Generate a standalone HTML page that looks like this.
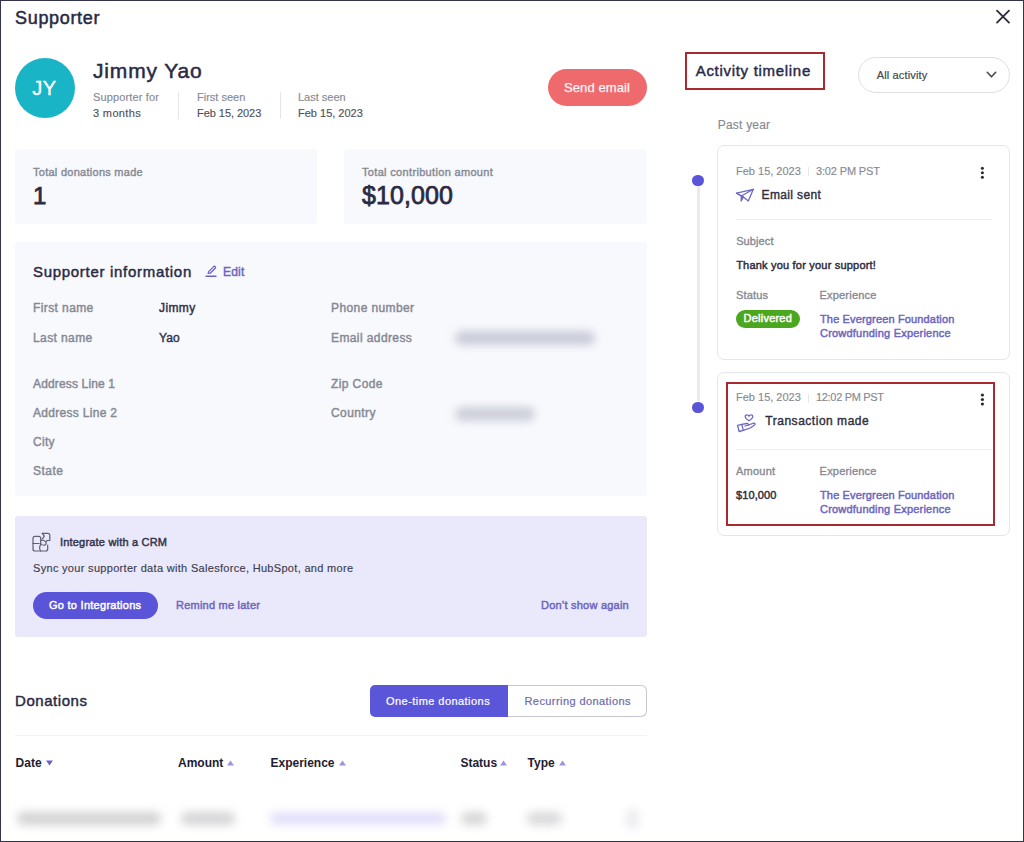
<!DOCTYPE html>
<html><head><meta charset="utf-8"><title>Supporter</title>
<style>
html,body{margin:0;padding:0;}
body{width:1024px;height:842px;overflow:hidden;background:#fff;position:relative;font-family:"Liberation Sans",sans-serif;}
.frame{position:absolute;left:0;top:0;width:1024px;height:842px;box-sizing:border-box;border:1px solid #33334a;pointer-events:none;z-index:10;}
.t{position:absolute;white-space:nowrap;line-height:1;}
.r{position:absolute;}
</style></head><body>
<div class="r" style="left:15px;top:149px;width:302px;height:75px;background:#f8f9fd;border-radius:3px;"></div>
<div class="r" style="left:344px;top:149px;width:303px;height:75px;background:#f8f9fd;border-radius:3px;"></div>
<div class="r" style="left:15px;top:242px;width:632px;height:254px;background:#f8f9fd;border-radius:3px;"></div>
<div class="r" style="left:15px;top:516px;width:632px;height:121px;background:#eae8fb;border-radius:3px;"></div>
<div class="t" style="left:15px;top:8.76px;font-size:18px;color:#2a2a44;font-weight:400;letter-spacing:0.68px;-webkit-text-stroke:0.5px #2a2a44;">Supporter</div>
<svg class="r" style="left:990px;top:4px" width="26" height="26" viewBox="0 0 26 26"><path d="M7 6.6L19 18.6M19 6.6L7 18.6" stroke="#2a2a3a" stroke-width="1.8" stroke-linecap="round"/></svg>
<div class="r" style="left:15px;top:58px;width:60px;height:60px;background:#19b5c6;border-radius:50%;"></div>
<div class="t" style="left:32.3px;top:77.67px;font-size:20px;color:#ffffff;font-weight:400;letter-spacing:0.4px;-webkit-text-stroke:0.35px #ffffff;">JY</div>
<div class="t" style="left:93px;top:59.72px;font-size:21px;color:#2a2a44;font-weight:400;letter-spacing:0.85px;-webkit-text-stroke:0.5px #2a2a44;">Jimmy Yao</div>
<div class="t" style="left:93px;top:92.49px;font-size:11px;color:#878a94;font-weight:400;letter-spacing:0.15px;-webkit-text-stroke:0.15px #878a94;">Supporter for</div>
<div class="t" style="left:93px;top:108.29px;font-size:11px;color:#50525c;font-weight:400;letter-spacing:0.35px;-webkit-text-stroke:0.15px #50525c;">3 months</div>
<div class="r" style="left:178px;top:92px;width:1px;height:27px;background:#e4e5ea;"></div>
<div class="t" style="left:197px;top:92.29px;font-size:11px;color:#878a94;font-weight:400;-webkit-text-stroke:0.15px #878a94;">First seen</div>
<div class="t" style="left:197px;top:108.29px;font-size:11px;color:#50525c;font-weight:400;letter-spacing:-0.05px;-webkit-text-stroke:0.15px #50525c;">Feb 15, 2023</div>
<div class="r" style="left:280px;top:92px;width:1px;height:27px;background:#e4e5ea;"></div>
<div class="t" style="left:298px;top:92.29px;font-size:11px;color:#878a94;font-weight:400;-webkit-text-stroke:0.15px #878a94;">Last seen</div>
<div class="t" style="left:298px;top:108.29px;font-size:11px;color:#50525c;font-weight:400;-webkit-text-stroke:0.15px #50525c;">Feb 15, 2023</div>
<div class="r" style="left:548px;top:69px;width:99px;height:37px;background:#ef6a6d;border-radius:19px;"></div>
<div class="t" style="left:564px;top:80.90px;font-size:13px;color:#fff5f6;font-weight:400;letter-spacing:0.1px;-webkit-text-stroke:0.25px #fff5f6;">Send email</div>
<div class="t" style="left:33px;top:166.69px;font-size:11px;color:#878a94;font-weight:400;letter-spacing:0.27px;-webkit-text-stroke:0.4px #878a94;">Total donations made</div>
<div class="t" style="left:33px;top:183.68px;font-size:24px;color:#2a2a44;font-weight:400;-webkit-text-stroke:0.75px #2a2a44;">1</div>
<div class="t" style="left:362px;top:166.69px;font-size:11px;color:#878a94;font-weight:400;letter-spacing:0.33px;-webkit-text-stroke:0.4px #878a94;">Total contribution amount</div>
<div class="t" style="left:362px;top:182.84px;font-size:25px;color:#2a2a44;font-weight:400;letter-spacing:0.1px;-webkit-text-stroke:0.75px #2a2a44;">$10,000</div>
<div class="t" style="left:33px;top:263.60px;font-size:15px;color:#2a2a44;font-weight:400;letter-spacing:0.7px;-webkit-text-stroke:0.45px #2a2a44;">Supporter information</div>
<svg class="r" style="left:204px;top:264px" width="14" height="14" viewBox="0 0 14 14"><path d="M4.2 9.4 L4.6 7.6 L9.6 2.6 Q10.4 1.9 11.2 2.6 Q11.9 3.4 11.2 4.2 L6.2 9.2 Z" fill="none" stroke="#6a63c8" stroke-width="1.3" stroke-linejoin="round"/><path d="M2 12.2H12" stroke="#6a63c8" stroke-width="1.4" stroke-linecap="round"/></svg>
<div class="t" style="left:223px;top:265.84px;font-size:12px;color:#6b66be;font-weight:400;letter-spacing:0.2px;-webkit-text-stroke:0.45px #6b66be;">Edit</div>
<div class="t" style="left:33px;top:301.74px;font-size:12px;color:#878a94;font-weight:400;letter-spacing:0.4px;-webkit-text-stroke:0.45px #878a94;">First name</div>
<div class="t" style="left:33px;top:331.54px;font-size:12px;color:#878a94;font-weight:400;letter-spacing:0.4px;-webkit-text-stroke:0.45px #878a94;">Last name</div>
<div class="t" style="left:33px;top:378.44px;font-size:12px;color:#878a94;font-weight:400;letter-spacing:0.15px;-webkit-text-stroke:0.45px #878a94;">Address Line 1</div>
<div class="t" style="left:33px;top:407.24px;font-size:12px;color:#878a94;font-weight:400;letter-spacing:0.3px;-webkit-text-stroke:0.45px #878a94;">Address Line 2</div>
<div class="t" style="left:33px;top:436.04px;font-size:12px;color:#878a94;font-weight:400;letter-spacing:0.3px;-webkit-text-stroke:0.45px #878a94;">City</div>
<div class="t" style="left:33px;top:465.04px;font-size:12px;color:#878a94;font-weight:400;letter-spacing:0.5px;-webkit-text-stroke:0.45px #878a94;">State</div>
<div class="t" style="left:159px;top:301.74px;font-size:12px;color:#34344a;font-weight:400;letter-spacing:0.4px;-webkit-text-stroke:0.45px #34344a;">Jimmy</div>
<div class="t" style="left:159px;top:331.54px;font-size:12px;color:#34344a;font-weight:400;letter-spacing:0.1px;-webkit-text-stroke:0.45px #34344a;">Yao</div>
<div class="t" style="left:331px;top:301.74px;font-size:12px;color:#878a94;font-weight:400;letter-spacing:0.4px;-webkit-text-stroke:0.45px #878a94;">Phone number</div>
<div class="t" style="left:331px;top:331.54px;font-size:12px;color:#878a94;font-weight:400;letter-spacing:0.4px;-webkit-text-stroke:0.45px #878a94;">Email address</div>
<div class="t" style="left:331px;top:378.44px;font-size:12px;color:#878a94;font-weight:400;letter-spacing:0.4px;-webkit-text-stroke:0.45px #878a94;">Zip Code</div>
<div class="t" style="left:331px;top:407.24px;font-size:12px;color:#878a94;font-weight:400;letter-spacing:0.4px;-webkit-text-stroke:0.45px #878a94;">Country</div>
<div class="r" style="left:455px;top:331px;width:140px;height:14px;background:#c9cbd8;border-radius:7px;filter:blur(4px);"></div>
<div class="r" style="left:455px;top:407px;width:80px;height:14px;background:#ccced9;border-radius:7px;filter:blur(4px);"></div>
<svg class="r" style="left:28px;top:528px" width="28" height="28" viewBox="0 0 28 28"><g fill="none" stroke="#5e6070" stroke-width="1.2" stroke-linejoin="round" stroke-linecap="round"><path d="M12.7 15.5V10.3Q12.7 8.3 10.7 8.3H7Q5 8.3 5 10.3V21Q5 23 7 23H17.7Q19.7 23 19.7 21V17"/><path d="M5 15.5H11.2"/><path d="M12.7 23C11.3 21 11.2 19 12.6 16.6"/><path d="M12.7 12.3Q15.5 11.6 17.4 13.6Q19.3 15.6 16.6 17.2Q14.2 17.6 12.6 15.5"/><path d="M14.3 5.3H19.8Q21.8 5.3 21.8 7.3V12.5H19.3L18.3 13.3"/><path d="M14.3 5.3L16.3 8.2L14.4 10.8"/></g></svg>
<div class="t" style="left:60px;top:536.69px;font-size:11px;color:#34344a;font-weight:400;letter-spacing:0.19px;-webkit-text-stroke:0.45px #34344a;">Integrate with a CRM</div>
<div class="t" style="left:33px;top:563.29px;font-size:11px;color:#3c3e4c;font-weight:400;letter-spacing:0.31px;-webkit-text-stroke:0.15px #3c3e4c;">Sync your supporter data with Salesforce, HubSpot, and more</div>
<div class="r" style="left:33px;top:592px;width:125px;height:27px;background:#5a54d8;border-radius:14px;"></div>
<div class="t" style="left:49px;top:599.89px;font-size:11px;color:#ffffff;font-weight:400;letter-spacing:0.27px;-webkit-text-stroke:0.45px #ffffff;">Go to Integrations</div>
<div class="t" style="left:176px;top:599.89px;font-size:11px;color:#6b66be;font-weight:400;letter-spacing:0.23px;-webkit-text-stroke:0.45px #6b66be;">Remind me later</div>
<div class="t" style="left:541px;top:599.89px;font-size:11px;color:#6b66be;font-weight:400;letter-spacing:0.22px;-webkit-text-stroke:0.45px #6b66be;">Don&#8217;t show again</div>
<div class="t" style="left:15px;top:693.30px;font-size:15px;color:#2a2a44;font-weight:400;letter-spacing:0.55px;-webkit-text-stroke:0.45px #2a2a44;">Donations</div>
<div class="r" style="left:370px;top:685px;width:138px;height:32px;background:#5b55d9;border-radius:5px 0 0 5px;"></div>
<div class="r" style="left:508px;top:685px;width:139px;height:32px;box-sizing:border-box;border:1px solid #c6c6cb;border-left:none;border-radius:0 6px 6px 0;background:#fff;"></div>
<div class="t" style="left:386px;top:695.69px;font-size:11px;color:#ffffff;font-weight:400;letter-spacing:0.45px;-webkit-text-stroke:0.2px #ffffff;">One-time donations</div>
<div class="t" style="left:524.5px;top:695.69px;font-size:11px;color:#6d69b0;font-weight:400;letter-spacing:0.42px;-webkit-text-stroke:0.2px #6d69b0;">Recurring donations</div>
<div class="r" style="left:15px;top:735px;width:632px;height:1px;background:#f2f3f5;"></div>
<div class="t" style="left:15.6px;top:757.44px;font-size:12px;color:#1f2030;font-weight:700;">Date</div>
<svg class="r" style="left:46.2px;top:760px" width="7" height="6" viewBox="0 0 7 6"><path d="M0 0.5H7L3.5 5.5Z" fill="#6a63c8"/></svg>
<div class="t" style="left:178px;top:757.44px;font-size:12px;color:#1f2030;font-weight:700;">Amount</div>
<svg class="r" style="left:227px;top:760px" width="7" height="6" viewBox="0 0 7 6"><path d="M0 5.5H7L3.5 0.5Z" fill="#9b96de"/></svg>
<div class="t" style="left:270.5px;top:757.44px;font-size:12px;color:#1f2030;font-weight:700;">Experience</div>
<svg class="r" style="left:339px;top:760px" width="7" height="6" viewBox="0 0 7 6"><path d="M0 5.5H7L3.5 0.5Z" fill="#9b96de"/></svg>
<div class="t" style="left:460.4px;top:757.44px;font-size:12px;color:#1f2030;font-weight:700;">Status</div>
<svg class="r" style="left:500px;top:760px" width="7" height="6" viewBox="0 0 7 6"><path d="M0 5.5H7L3.5 0.5Z" fill="#9b96de"/></svg>
<div class="t" style="left:527.6px;top:757.44px;font-size:12px;color:#1f2030;font-weight:700;">Type</div>
<svg class="r" style="left:559px;top:760px" width="7" height="6" viewBox="0 0 7 6"><path d="M0 5.5H7L3.5 0.5Z" fill="#9b96de"/></svg>
<div class="r" style="left:17px;top:812px;width:144px;height:13px;background:#d2d2d4;border-radius:6px;filter:blur(5px);"></div>
<div class="r" style="left:181px;top:812px;width:54px;height:13px;background:#d4d4d6;border-radius:6px;filter:blur(5px);"></div>
<div class="r" style="left:270px;top:813px;width:176px;height:11px;background:#dedbf9;border-radius:6px;filter:blur(5px);"></div>
<div class="r" style="left:461px;top:812px;width:26px;height:13px;background:#d6d6d8;border-radius:6px;filter:blur(5px);"></div>
<div class="r" style="left:527px;top:812px;width:35px;height:13px;background:#d9d9db;border-radius:6px;filter:blur(5px);"></div>
<div class="r" style="left:626px;top:808px;width:13px;height:22px;background:#ededf0;border-radius:7px;filter:blur(4px);"></div>
<div class="r" style="left:685px;top:52px;width:140px;height:38px;box-sizing:border-box;border:2px solid #a8292f;"></div>
<div class="t" style="left:695.7px;top:62.90px;font-size:15px;color:#2a2a44;font-weight:400;letter-spacing:0.7px;-webkit-text-stroke:0.45px #2a2a44;">Activity timeline</div>
<div class="r" style="left:858px;top:57px;width:152px;height:36px;box-sizing:border-box;border:1px solid #dfdfe2;border-radius:18px;background:#fff;"></div>
<div class="t" style="left:876.7px;top:69.69px;font-size:11px;color:#45464f;font-weight:400;letter-spacing:0.15px;-webkit-text-stroke:0.2px #45464f;">All activity</div>
<svg class="r" style="left:985px;top:70px" width="13" height="10" viewBox="0 0 13 10"><path d="M2.3 2.3L6.5 6.8L10.7 2.3" fill="none" stroke="#4a4a55" stroke-width="1.6" stroke-linecap="round" stroke-linejoin="round"/></svg>
<div class="t" style="left:717.8px;top:118.64px;font-size:12px;color:#878a94;font-weight:400;letter-spacing:0.2px;-webkit-text-stroke:0.15px #878a94;">Past year</div>
<div class="r" style="left:696.6px;top:186px;width:3px;height:215px;background:#eae9f7;"></div>
<div class="r" style="left:692.3px;top:174.6px;width:11.5px;height:11.5px;background:#5a54d8;border-radius:50%;"></div>
<div class="r" style="left:692.3px;top:401.5px;width:11.5px;height:11.5px;background:#5a54d8;border-radius:50%;"></div>
<div class="r" style="left:717px;top:145px;width:293px;height:215px;box-sizing:border-box;border:1px solid #e3e8e6;border-radius:7px;background:#fff;"></div>
<div class="t" style="left:736px;top:165.69px;font-size:11px;color:#878a94;font-weight:400;-webkit-text-stroke:0.15px #878a94;">Feb 15, 2023</div>
<div class="r" style="left:808px;top:167px;width:1px;height:9px;background:#e6e7ea;"></div>
<div class="t" style="left:816px;top:165.69px;font-size:11px;color:#878a94;font-weight:400;letter-spacing:-0.15px;-webkit-text-stroke:0.15px #878a94;">3:02 PM PST</div>
<svg class="r" style="left:976px;top:163px" width="12" height="20" viewBox="0 0 12 20"><g fill="#2a2a3a"><circle cx="6.4" cy="5.2" r="1.5"/><circle cx="6.4" cy="9.8" r="1.5"/><circle cx="6.4" cy="14.3" r="1.5"/></g></svg>
<svg class="r" style="left:735px;top:186.5px" width="20" height="16" viewBox="0 0 20 16"><g fill="none" stroke="#6d67c4" stroke-width="1.3" stroke-linejoin="round" stroke-linecap="round"><path d="M1.5 6.2L18.3 2.3L13.3 14.1L8.4 9.9Z"/><path d="M1.5 6.2L6.3 9L18.3 2.3"/><path d="M6.3 9L6.2 14L8.4 9.9Z" fill="#8a84dd"/></g></svg>
<div class="t" style="left:761.6px;top:188.84px;font-size:12px;color:#30303f;font-weight:400;letter-spacing:0.35px;-webkit-text-stroke:0.4px #30303f;">Email sent</div>
<div class="r" style="left:736px;top:218.5px;width:256px;height:1px;background:#eceef0;"></div>
<div class="t" style="left:736.2px;top:236.44px;font-size:11px;color:#878a94;font-weight:400;letter-spacing:0.1px;-webkit-text-stroke:0.35px #878a94;">Subject</div>
<div class="t" style="left:736.2px;top:260.09px;font-size:11px;color:#2e2e3e;font-weight:400;letter-spacing:0.2px;-webkit-text-stroke:0.45px #2e2e3e;">Thank you for your support!</div>
<div class="t" style="left:736px;top:290.19px;font-size:11px;color:#878a94;font-weight:400;letter-spacing:0.15px;-webkit-text-stroke:0.35px #878a94;">Status</div>
<div class="t" style="left:819.5px;top:290.19px;font-size:11px;color:#878a94;font-weight:400;letter-spacing:0.2px;-webkit-text-stroke:0.35px #878a94;">Experience</div>
<div class="r" style="left:736px;top:310px;width:64px;height:17.5px;background:#4ba71e;border-radius:9px;"></div>
<div class="t" style="left:743.6px;top:313.39px;font-size:11px;color:#ffffff;font-weight:400;letter-spacing:0.22px;-webkit-text-stroke:0.45px #ffffff;">Delivered</div>
<div class="t" style="left:820px;top:313.79px;font-size:11px;color:#6b66be;font-weight:400;letter-spacing:0.15px;-webkit-text-stroke:0.45px #6b66be;">The Evergreen Foundation</div>
<div class="t" style="left:820px;top:328.49px;font-size:11px;color:#6b66be;font-weight:400;letter-spacing:0.21px;-webkit-text-stroke:0.45px #6b66be;">Crowdfunding Experience</div>
<div class="r" style="left:717px;top:372px;width:293px;height:164px;box-sizing:border-box;border:1px solid #e3e8e6;border-radius:7px;background:#fff;"></div>
<div class="r" style="left:726px;top:382px;width:269px;height:144px;box-sizing:border-box;border:2px solid #a8292f;"></div>
<div class="t" style="left:736px;top:392.19px;font-size:11px;color:#878a94;font-weight:400;-webkit-text-stroke:0.15px #878a94;">Feb 15, 2023</div>
<div class="r" style="left:808px;top:393.5px;width:1px;height:9px;background:#e6e7ea;"></div>
<div class="t" style="left:816px;top:392.19px;font-size:11px;color:#878a94;font-weight:400;letter-spacing:-0.32px;-webkit-text-stroke:0.15px #878a94;">12:02 PM PST</div>
<svg class="r" style="left:976px;top:390px" width="12" height="20" viewBox="0 0 12 20"><g fill="#2a2a3a"><circle cx="6.4" cy="5" r="1.6"/><circle cx="6.4" cy="9.5" r="1.6"/><circle cx="6.4" cy="14" r="1.6"/></g></svg>
<svg class="r" style="left:732px;top:410px" width="28" height="28" viewBox="0 0 28 28"><g fill="none" stroke="#6d67c4" stroke-width="1.3" stroke-linejoin="round" stroke-linecap="round"><path d="M17 10.8C13.8 8.6 13.2 7.4 13.2 6.4C13.2 5.4 14 4.8 14.9 4.8C15.8 4.8 16.6 5.3 17 6.1C17.4 5.3 18.2 4.8 19.1 4.8C20 4.8 20.8 5.4 20.8 6.4C20.8 7.4 20.2 8.6 17 10.8Z"/><path d="M5.6 15.4L9.8 14.3L11.3 20.4L7.1 21.5Z"/><path d="M9.8 14.3L14.8 13.5C16 13.4 16.8 14.1 16.5 15L13 16"/><path d="M16.5 15L21.6 13.2C22.9 12.8 23.6 14.2 22.6 15L18.2 18L11.3 20.4"/></g></svg>
<div class="t" style="left:765.3px;top:415.34px;font-size:12px;color:#30303f;font-weight:400;letter-spacing:0.52px;-webkit-text-stroke:0.4px #30303f;">Transaction made</div>
<div class="r" style="left:736px;top:448.5px;width:256px;height:1px;background:#eceef0;"></div>
<div class="t" style="left:736px;top:465.89px;font-size:11px;color:#878a94;font-weight:400;letter-spacing:0.25px;-webkit-text-stroke:0.35px #878a94;">Amount</div>
<div class="t" style="left:819.6px;top:465.89px;font-size:11px;color:#878a94;font-weight:400;letter-spacing:0.2px;-webkit-text-stroke:0.35px #878a94;">Experience</div>
<div class="t" style="left:736px;top:489.89px;font-size:11px;color:#2e2e3e;font-weight:400;letter-spacing:0.1px;-webkit-text-stroke:0.45px #2e2e3e;">$10,000</div>
<div class="t" style="left:820px;top:489.89px;font-size:11px;color:#6b66be;font-weight:400;letter-spacing:0.15px;-webkit-text-stroke:0.45px #6b66be;">The Evergreen Foundation</div>
<div class="t" style="left:820px;top:504.49px;font-size:11px;color:#6b66be;font-weight:400;letter-spacing:0.21px;-webkit-text-stroke:0.45px #6b66be;">Crowdfunding Experience</div>
<div class="frame"></div>
</body></html>
